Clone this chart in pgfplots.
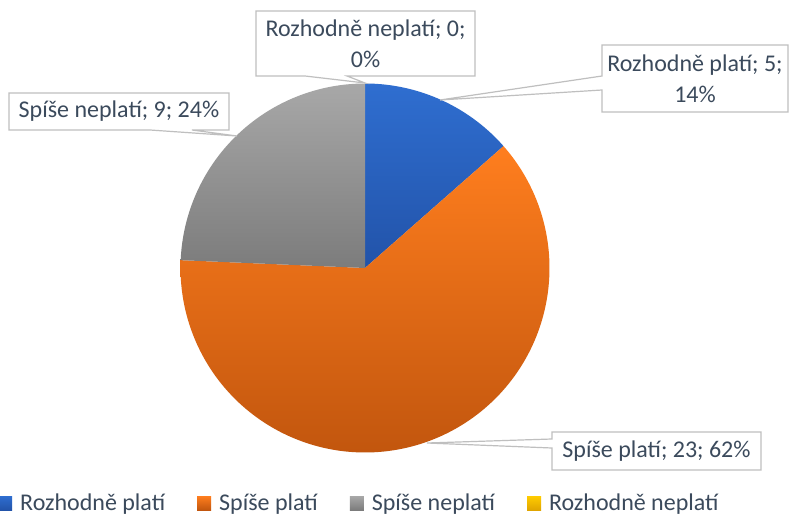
\documentclass[border=0pt]{standalone}
\usepackage{pgfplots}
\usepackage{pgfplotstable}
\pgfplotsset{compat=1.18}
\usepackage{fontspec}
\setmainfont{Carlito}
\definecolor{txt}{HTML}{3B4A5C}
\definecolor{bdr}{HTML}{BFBFBF}
\definecolor{bluT}{HTML}{2F6ED0}
\definecolor{bluB}{HTML}{2253A9}
\definecolor{orT}{HTML}{FF7E1E}
\definecolor{orB}{HTML}{C2560E}
\definecolor{grT}{HTML}{A8A8A8}
\definecolor{grB}{HTML}{7C7C7C}
\definecolor{yeT}{HTML}{FFCC00}
\definecolor{yeB}{HTML}{E0A500}

\pgfplotstableread{
cat value
1 5
2 23
3 9
4 0
}\piedata

\pgfplotstablegetelem{0}{value}\of\piedata \let\va\pgfplotsretval
\pgfplotstablegetelem{1}{value}\of\piedata \let\vb\pgfplotsretval
\pgfplotstablegetelem{2}{value}\of\piedata \let\vc\pgfplotsretval
\pgfplotstablegetelem{3}{value}\of\piedata \let\vd\pgfplotsretval
\pgfmathsetmacro\tot{\va+\vb+\vc+\vd}
\pgfmathsetmacro\aA{90}
\pgfmathsetmacro\aB{90-360*\va/\tot}
\pgfmathsetmacro\aC{\aB-360*\vb/\tot}
\pgfmathsetmacro\aD{\aC-360*\vc/\tot}

\begin{document}
\begin{tikzpicture}
\useasboundingbox (0,0) rectangle (790pt,520pt);
\fill[white] (0,0) rectangle (790pt,520pt);
\begin{axis}[
  x=1pt, y=1pt, xmin=0, xmax=790, ymin=0, ymax=520,
  hide axis, scale only axis, clip=false,
  legend image code/.code={\path[#1] (0pt,-7pt) rectangle (14pt,7pt);},
  legend columns=4,
  legend style={draw=none, fill=none, at={(axis cs:-2,17)}, anchor=west,
    inner sep=0pt, font=\fontsize{24}{28}\selectfont, text=txt,
    /tikz/every odd column/.append style={column sep=6pt},
    /tikz/every even column/.append style={column sep=30pt}},
]
\addplot[forget plot, draw=none, top color=bluT, bottom color=bluB, domain=\aB:\aA, samples=80, variable=\t]
  ({365+184.5*cos(\t)},{252+184.5*sin(\t)}) -- (365,252) -- cycle;
\addplot[forget plot, draw=none, top color=orT, bottom color=orB, domain=\aC:\aB, samples=200, variable=\t]
  ({365+184.5*cos(\t)},{252+184.5*sin(\t)}) -- (365,252) -- cycle;
\addplot[forget plot, draw=none, top color=grT, bottom color=grB, domain=\aD:\aC, samples=80, variable=\t]
  ({365+184.5*cos(\t)},{252+184.5*sin(\t)}) -- (365,252) -- cycle;

\addlegendimage{draw=none, top color=bluT, bottom color=bluB}
\addlegendentry{Rozhodně platí}
\addlegendimage{draw=none, top color=orT, bottom color=orB}
\addlegendentry{Spíše platí}
\addlegendimage{draw=none, top color=grT, bottom color=grB}
\addlegendentry{Spíše neplatí}
\addlegendimage{draw=none, top color=yeT, bottom color=yeB}
\addlegendentry{Rozhodně neplatí}

% callouts
\draw[bdr, line width=1.2pt, fill=white] (256,509) -- (475,509) -- (475,444) -- (347,444) -- (365,437) -- (305,444) -- (256,444) -- cycle;
\node[text=txt, align=center, font=\fontsize{24}{31}\selectfont] at (365.5,476.5) {Rozhodně neplatí; 0;\\0\%};

\draw[bdr, line width=1.2pt, fill=white] (602,475) -- (788,475) -- (788,408) -- (602,408) -- (602,430) -- (440,420) -- (602,444) -- cycle;
\node[text=txt, align=center, font=\fontsize{24}{31}\selectfont] at (695,441.5) {Rozhodně platí; 5;\\14\%};

\draw[bdr, line width=1.2pt, fill=white] (9,427) -- (229,427) -- (229,390) -- (192,390) -- (237,384) -- (150,390) -- (9,390) -- cycle;
\node[text=txt, font=\fontsize{24}{31}\selectfont] at (119,408.5) {Spíše neplatí; 9; 24\%};

\draw[bdr, line width=1.2pt, fill=white] (552,88) -- (761,88) -- (761,50) -- (552,50) -- (552,72) -- (427,77) -- (552,81) -- cycle;
\node[text=txt, font=\fontsize{24}{31}\selectfont] at (656.5,69) {Spíše platí; 23; 62\%};
\end{axis}
\end{tikzpicture}
\end{document}
